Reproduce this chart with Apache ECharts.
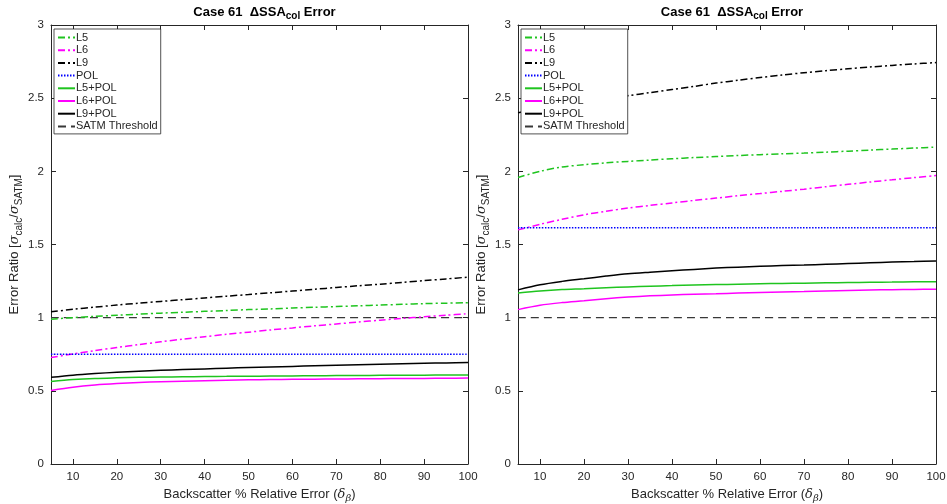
<!DOCTYPE html>
<html>
<head>
<meta charset="utf-8">
<script src="https://cdn.jsdelivr.net/npm/echarts@6/dist/echarts.min.js"></script>
<style>
  html, body { margin: 0; padding: 0; background: #fff; }
  #chart { width: 947px; height: 504px; }
</style>
</head>
<body>
<div id="chart"></div>
<script>
// Backscatter relative error (%) sample points
const xs = [5, 10, 15, 20, 25, 30, 35, 40, 45, 50, 55, 60, 65, 70, 75, 80, 85, 90, 95, 100];
const xTicks = [10, 20, 30, 40, 50, 60, 70, 80, 90, 100];
const xEnds = [5, 100];

// Left panel
const leftL5 = [0.990, 1.000, 1.009, 1.017, 1.024, 1.031, 1.037, 1.043, 1.049, 1.055, 1.060, 1.066, 1.071, 1.076, 1.081, 1.086, 1.091, 1.096, 1.099, 1.102];
const leftL6 = [0.728, 0.752, 0.775, 0.796, 0.816, 0.835, 0.853, 0.870, 0.886, 0.901, 0.916, 0.930, 0.944, 0.957, 0.970, 0.983, 0.995, 1.006, 1.017, 1.027];
const leftL9 = [1.040, 1.057, 1.072, 1.086, 1.099, 1.111, 1.123, 1.135, 1.147, 1.158, 1.170, 1.182, 1.194, 1.206, 1.218, 1.229, 1.241, 1.253, 1.265, 1.277];
const leftPOL = [0.75, 0.75];
const leftL5POL = [0.564, 0.577, 0.585, 0.589, 0.592, 0.594, 0.596, 0.598, 0.599, 0.600, 0.601, 0.602, 0.603, 0.604, 0.605, 0.606, 0.607, 0.607, 0.608, 0.608];
const leftL6POL = [0.503, 0.525, 0.540, 0.550, 0.557, 0.562, 0.566, 0.569, 0.572, 0.575, 0.577, 0.579, 0.580, 0.581, 0.582, 0.583, 0.584, 0.585, 0.586, 0.587];
const leftL9POL = [0.592, 0.607, 0.618, 0.627, 0.634, 0.640, 0.645, 0.650, 0.655, 0.659, 0.663, 0.667, 0.671, 0.675, 0.679, 0.682, 0.685, 0.688, 0.691, 0.694];

// Right panel
const rightL5 = [1.958, 2.000, 2.030, 2.045, 2.058, 2.068, 2.077, 2.086, 2.094, 2.101, 2.108, 2.114, 2.120, 2.125, 2.131, 2.138, 2.145, 2.152, 2.159, 2.165];
const rightL6 = [1.600, 1.638, 1.672, 1.703, 1.727, 1.749, 1.767, 1.784, 1.801, 1.817, 1.833, 1.848, 1.863, 1.878, 1.895, 1.911, 1.927, 1.942, 1.957, 1.971];
const rightL9 = [2.400, 2.428, 2.453, 2.475, 2.497, 2.517, 2.538, 2.559, 2.580, 2.603, 2.622, 2.641, 2.658, 2.674, 2.688, 2.701, 2.713, 2.724, 2.734, 2.743];
const rightPOL = [1.615, 1.615];
const rightL5POL = [1.168, 1.182, 1.192, 1.198, 1.205, 1.210, 1.215, 1.219, 1.223, 1.226, 1.229, 1.232, 1.234, 1.236, 1.238, 1.240, 1.242, 1.243, 1.245, 1.246];
const rightL6POL = [1.055, 1.085, 1.103, 1.116, 1.130, 1.141, 1.149, 1.155, 1.160, 1.164, 1.168, 1.172, 1.176, 1.179, 1.183, 1.186, 1.189, 1.191, 1.193, 1.194];
const rightL9POL = [1.190, 1.225, 1.248, 1.266, 1.284, 1.300, 1.311, 1.321, 1.330, 1.339, 1.345, 1.351, 1.356, 1.360, 1.365, 1.370, 1.375, 1.380, 1.384, 1.388];

const threshold = [1, 1];

const seriesNames = ['L5', 'L6', 'L9', 'POL', 'L5+POL', 'L6+POL', 'L9+POL', 'SATM Threshold'];

const FONT = 'Liberation Sans, Arial, Helvetica, sans-serif';
const SERIF = 'DejaVu Serif, serif';
const INK = '#262626';
const GREEN = '#1fc41f';
const MAGENTA = '#ff00ff';
const BLUE = '#0000ff';
const BLACK = '#000000';
const DASHDOT = [7, 3, 2, 3];

const styles = {
  'L5': { color: GREEN, type: DASHDOT, width: 1.5 },
  'L6': { color: MAGENTA, type: DASHDOT, width: 1.5 },
  'L9': { color: BLACK, type: DASHDOT, width: 1.5 },
  'POL': { color: BLUE, type: [1.5, 1.5], width: 1.5 },
  'L5+POL': { color: GREEN, type: 'solid', width: 1.5 },
  'L6+POL': { color: MAGENTA, type: 'solid', width: 1.5 },
  'L9+POL': { color: BLACK, type: 'solid', width: 1.5 },
  'SATM Threshold': { color: '#383838', type: [8, 5], width: 1.2 }
};

const panels = [
  { L5: leftL5, L6: leftL6, L9: leftL9, POL: leftPOL, 'L5+POL': leftL5POL, 'L6+POL': leftL6POL, 'L9+POL': leftL9POL, 'SATM Threshold': threshold },
  { L5: rightL5, L6: rightL6, L9: rightL9, POL: rightPOL, 'L5+POL': rightL5POL, 'L6+POL': rightL6POL, 'L9+POL': rightL9POL, 'SATM Threshold': threshold }
];

const gridsPx = [
  { left: 51, top: 25, width: 417, height: 439 },
  { left: 518, top: 25, width: 418, height: 439 }
];

function pairUp(vals) {
  const xv = vals.length === xs.length ? xs : xEnds;
  return vals.map((v, i) => [xv[i], v]);
}

const xAxes = [];
const yAxes = [];
const series = [];
const titles = [];
const legends = [];

gridsPx.forEach((g, gi) => {
  // bottom x axis with labels
  xAxes.push({
    type: 'value', gridIndex: gi, position: 'bottom', min: 5, max: 100,
    axisLine: { show: true, onZero: false, lineStyle: { color: INK, width: 1 } },
    axisTick: { show: true, inside: true, length: 5, customValues: xTicks, lineStyle: { color: INK } },
    axisLabel: { customValues: xTicks, color: INK, fontSize: 11.5, margin: 7, fontFamily: FONT },
    splitLine: { show: false },
    name: 'Backscatter % Relative Error ({it|δ}{sub|β})',
    nameLocation: 'middle', nameGap: 15,
    nameTextStyle: {
      color: INK, fontSize: 13, fontFamily: FONT,
      rich: {
        it: { fontSize: 13, fontStyle: 'italic', fontFamily: SERIF, color: INK },
        sub: { fontSize: 10, fontStyle: 'italic', fontFamily: SERIF, color: INK, verticalAlign: 'bottom', padding: [9, 0, 0, 0] }
      }
    }
  });
  // top frame axis
  xAxes.push({
    type: 'value', gridIndex: gi, position: 'top', min: 5, max: 100,
    axisLine: { show: true, onZero: false, lineStyle: { color: INK, width: 1 } },
    axisTick: { show: true, inside: true, length: 5, customValues: xTicks, lineStyle: { color: INK } },
    axisLabel: { show: false },
    splitLine: { show: false }
  });
  // left y axis with labels
  yAxes.push({
    type: 'value', gridIndex: gi, position: 'left', min: 0, max: 3, interval: 0.5,
    axisLine: { show: true, onZero: false, lineStyle: { color: INK, width: 1 } },
    axisTick: { show: true, inside: true, length: 5, lineStyle: { color: INK } },
    axisLabel: { color: INK, fontSize: 11.5, margin: 7, fontFamily: FONT },
    splitLine: { show: false },
    name: 'Error Ratio [{it|σ}{sub|calc}{n|/}{it|σ}{sub|SATM}]',
    nameLocation: 'middle', nameGap: 22, nameRotate: 90,
    nameTextStyle: {
      color: INK, fontSize: 13, fontFamily: FONT,
      rich: {
        it: { fontSize: 13, fontStyle: 'italic', fontFamily: SERIF, color: INK },
        n: { fontSize: 13, fontFamily: FONT, color: INK },
        sub: { fontSize: 10, fontFamily: FONT, color: INK, verticalAlign: 'bottom', padding: [9, 0, 0, 0] }
      }
    }
  });
  // right frame axis
  yAxes.push({
    type: 'value', gridIndex: gi, position: 'right', min: 0, max: 3, interval: 0.5,
    axisLine: { show: true, onZero: false, lineStyle: { color: INK, width: 1 } },
    axisTick: { show: true, inside: true, length: 5, lineStyle: { color: INK } },
    axisLabel: { show: false },
    splitLine: { show: false }
  });

  seriesNames.forEach(name => {
    const st = styles[name];
    series.push({
      name: name, type: 'line',
      xAxisIndex: gi * 2, yAxisIndex: gi * 2,
      data: pairUp(panels[gi][name]),
      symbol: 'none', smooth: 0.3,
      color: st.color,
      lineStyle: { color: st.color, type: st.type, width: st.width },
      z: name === 'SATM Threshold' ? 1 : 2,
      animation: false
    });
  });

  titles.push({
    text: 'Case 61  ΔSSA{sub|col} Error',
    left: g.left + g.width / 2, top: -2, textAlign: 'center',
    textStyle: {
      color: '#000', fontSize: 13, fontWeight: 'bold', fontFamily: FONT,
      rich: {
        sub: { fontSize: 10, fontWeight: 'bold', fontFamily: FONT, color: '#000', verticalAlign: 'bottom', padding: [8, 0, 0, 0] }
      }
    }
  });

  legends.push({
    data: seriesNames,
    orient: 'vertical',
    left: g.left + 3, top: 29,
    backgroundColor: '#fff',
    borderColor: INK, borderWidth: 0.8, borderRadius: 0,
    padding: [3, 3, 2, 3],
    itemGap: 1.7, itemWidth: 17, itemHeight: 11,
    selectedMode: false,
    itemStyle: { opacity: 0 },
    textStyle: { color: INK, fontSize: 11, fontFamily: FONT, padding: [0, 0, 0, -4] }
  });
});

const chart = echarts.init(document.getElementById('chart'), null, { renderer: 'canvas' });
chart.setOption({
  backgroundColor: '#fff',
  animation: false,
  title: titles,
  legend: legends,
  grid: gridsPx.map(g => Object.assign({ containLabel: false, outerBoundsMode: 'none' }, g)),
  xAxis: xAxes,
  yAxis: yAxes,
  series: series
});
</script>
</body>
</html>
